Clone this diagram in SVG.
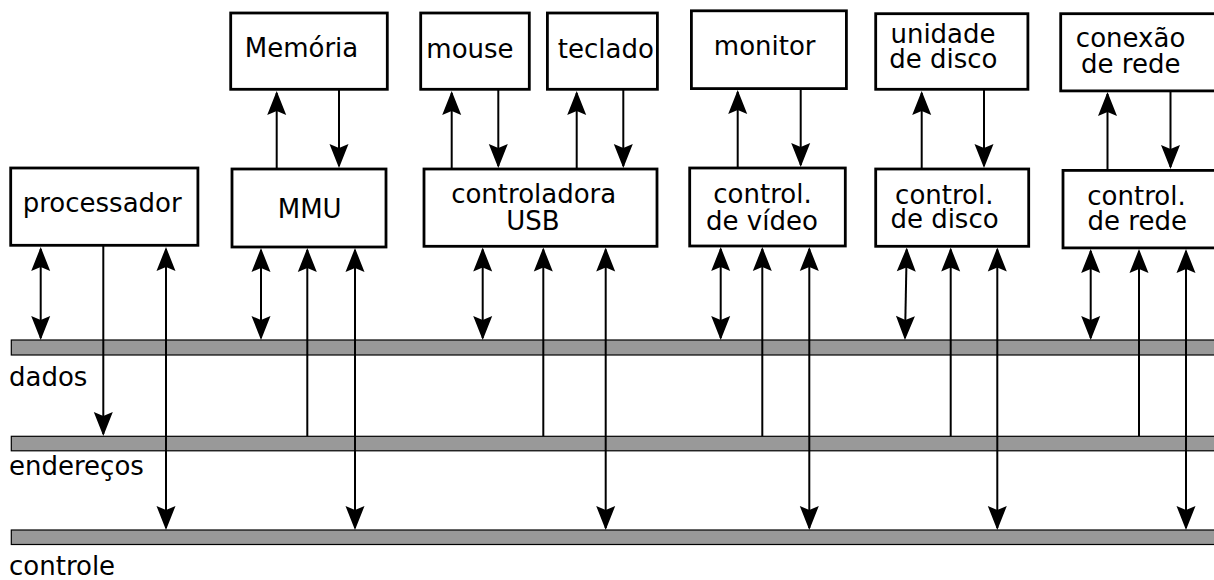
<svg xmlns="http://www.w3.org/2000/svg" width="1214" height="580" viewBox="0 0 1214 580">
<style>
.box{fill:#fff;stroke:#000;stroke-width:2.8}
.bus{fill:#999;stroke:#000;stroke-width:1.2}
.t{font-family:"DejaVu Sans","Liberation Sans",sans-serif;font-size:26px;fill:#000;text-anchor:middle}
.l{font-family:"DejaVu Sans","Liberation Sans",sans-serif;font-size:26px;fill:#000}
.c{fill:none;stroke:#000;stroke-width:2}
.a1{marker-end:url(#ah)}
.a2{marker-start:url(#ah);marker-end:url(#ah)}
</style>
<defs>
<marker id="ah" markerUnits="userSpaceOnUse" markerWidth="30" markerHeight="24" viewBox="-25 -12 30 24" refX="0" refY="0" orient="auto-start-reverse">
<path d="M2,0 L-22,-9.5 L-18,0 L-22,9.5 z" fill="#000"/>
</marker>
</defs>
<rect width="1214" height="580" fill="#fff"/>
<g id="buses">
<rect class="bus" x="11.3" y="340" width="1210" height="15"/>
<rect class="bus" x="11.3" y="436.3" width="1210" height="14.5"/>
<rect class="bus" x="11.3" y="530" width="1210" height="14.5"/>
<text class="l" x="9" y="386">dados</text>
<text class="l" x="9" y="475">endereços</text>
<text class="l" x="9" y="575">controle</text>
</g>
<g id="connectors">
<line class="c a1" x1="276.7" y1="168" x2="276.7" y2="93"/>
<line class="c a1" x1="339" y1="90" x2="339" y2="166"/>
<line class="c a1" x1="451.7" y1="168" x2="451.7" y2="93"/>
<line class="c a1" x1="498.3" y1="90" x2="498.3" y2="166"/>
<line class="c a1" x1="576.7" y1="168" x2="576.7" y2="93"/>
<line class="c a1" x1="623.3" y1="90" x2="623.3" y2="166"/>
<line class="c a1" x1="737.7" y1="168" x2="737.7" y2="92"/>
<line class="c a1" x1="800.7" y1="89" x2="800.7" y2="165"/>
<line class="c a1" x1="921.7" y1="168" x2="921.7" y2="93"/>
<line class="c a1" x1="984" y1="90" x2="984" y2="166"/>
<line class="c a1" x1="1107.5" y1="170" x2="1107.5" y2="94"/>
<line class="c a1" x1="1170.5" y1="92" x2="1170.5" y2="167"/>

<line class="c a2" x1="40.7" y1="249" x2="40.7" y2="338"/>
<line class="c a1" x1="103.3" y1="246" x2="103.3" y2="434"/>
<line class="c a2" x1="166" y1="249" x2="166" y2="528"/>

<line class="c a2" x1="261" y1="250" x2="261" y2="338"/>
<line class="c a1" x1="307.3" y1="436" x2="307.3" y2="250"/>
<line class="c a2" x1="355" y1="250" x2="355" y2="528"/>

<line class="c a2" x1="482.7" y1="249.5" x2="482.7" y2="338"/>
<line class="c a1" x1="543.3" y1="436" x2="543.3" y2="249.5"/>
<line class="c a2" x1="605.7" y1="249.5" x2="605.7" y2="528"/>

<line class="c a2" x1="720.7" y1="249" x2="720.7" y2="338"/>
<line class="c a1" x1="762.3" y1="436" x2="762.3" y2="249"/>
<line class="c a2" x1="809.3" y1="249" x2="809.3" y2="528"/>

<line class="c a2" x1="906.7" y1="249.5" x2="905" y2="338"/>
<line class="c a1" x1="950.7" y1="436" x2="950.7" y2="249.5"/>
<line class="c a2" x1="997.3" y1="249.5" x2="997.3" y2="528"/>

<line class="c a2" x1="1090.7" y1="251" x2="1090.7" y2="338"/>
<line class="c a1" x1="1139" y1="436" x2="1139" y2="251"/>
<line class="c a2" x1="1186" y1="251" x2="1186" y2="528"/>
</g>
<g id="processador">
<rect class="box" x="10.7" y="168" width="187.2" height="77.3"/>
<text class="t" x="102.2" y="211.7">processador</text>
</g>
<g id="memoria">
<rect class="box" x="230.7" y="13" width="156.6" height="76.3"/>
<text class="t" x="301.5" y="56.7">Memória</text>
</g>
<g id="mmu">
<rect class="box" x="232" y="169" width="154" height="78"/>
<text class="t" x="309.7" y="218.3">MMU</text>
</g>
<g id="mouse">
<rect class="box" x="420.7" y="13" width="108.6" height="76.3"/>
<text class="t" x="470" y="58.3">mouse</text>
</g>
<g id="teclado">
<rect class="box" x="547.4" y="13" width="110" height="76.3"/>
<text class="t" x="605.8" y="58">teclado</text>
</g>
<g id="usb">
<rect class="box" x="424" y="169" width="233" height="77.3"/>
<text class="t" x="533.7" y="203.3">controladora</text>
<text class="t" x="533" y="230">USB</text>
</g>
<g id="monitor">
<rect class="box" x="691.4" y="10.8" width="155" height="77.8"/>
<text class="t" x="764.7" y="55">monitor</text>
</g>
<g id="video">
<rect class="box" x="689.7" y="168" width="155.6" height="78"/>
<text class="t" x="762.5" y="203.3">control.</text>
<text class="t" x="762" y="230">de vídeo</text>
</g>
<g id="unidade-disco">
<rect class="box" x="875.7" y="13.7" width="152.2" height="75.6"/>
<text class="t" x="943" y="42.7">unidade</text>
<text class="t" x="943.3" y="68.3">de disco</text>
</g>
<g id="control-disco">
<rect class="box" x="875.7" y="169" width="153" height="77.3"/>
<text class="t" x="944.3" y="204">control.</text>
<text class="t" x="944.5" y="228.3">de disco</text>
</g>
<g id="conexao-rede">
<rect class="box" x="1060.7" y="13.7" width="200" height="77.2"/>
<text class="t" x="1130.6" y="46.7">conexão</text>
<text class="t" x="1130.8" y="73.3">de rede</text>
</g>
<g id="control-rede">
<rect class="box" x="1063" y="170.4" width="200" height="77.5"/>
<text class="t" x="1136.5" y="205">control.</text>
<text class="t" x="1137.3" y="230">de rede</text>
</g>
</svg>
